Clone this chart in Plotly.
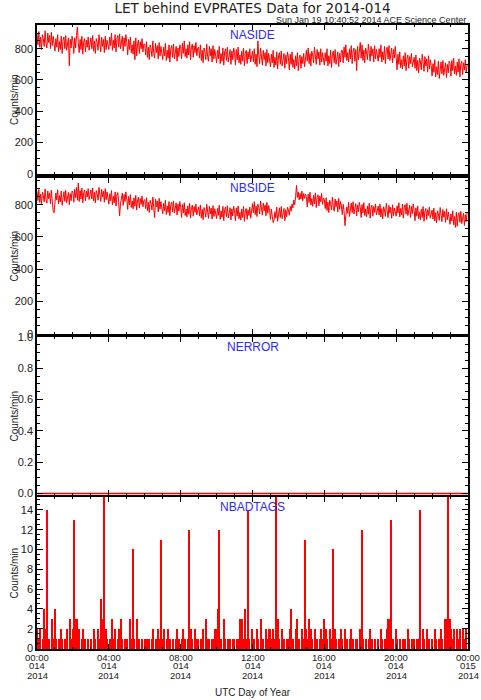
import plotly.graph_objects as go
from plotly.subplots import make_subplots
import pandas as pd

# 3-minute samples, one row per hour
naside = [
    895, 825, 910, 810, 875, 795, 890, 865, 815, 915, 835, 805, 900, 840, 885, 800, 905, 820, 880, 845,
    785, 865, 810, 890, 780, 845, 795, 880, 770, 855, 875, 800, 885, 790, 820, 870, 690, 860, 805, 880,
    850, 770, 870, 805, 885, 940, 835, 775, 860, 795, 880, 765, 845, 865, 780, 855, 810, 875, 790, 840,
    870, 800, 885, 785, 850, 770, 865, 840, 790, 890, 810, 780, 875, 815, 860, 775, 880, 795, 855, 820,
    795, 875, 820, 900, 790, 855, 805, 890, 780, 865, 885, 810, 895, 800, 830, 880, 785, 870, 815, 890,
    840, 760, 860, 795, 875, 775, 825, 765, 850, 730, 870, 755, 835, 855, 770, 845, 800, 865, 780, 830,
    830, 760, 845, 745, 810, 730, 825, 800, 750, 850, 770, 740, 835, 775, 820, 735, 840, 755, 815, 780,
    730, 810, 755, 835, 725, 790, 740, 825, 715, 800, 820, 745, 830, 735, 765, 815, 720, 805, 750, 825,
    815, 735, 835, 770, 850, 750, 800, 740, 825, 760, 845, 730, 810, 830, 745, 820, 775, 840, 755, 805,
    810, 740, 825, 725, 790, 710, 805, 780, 730, 830, 750, 720, 815, 755, 800, 715, 820, 735, 795, 760,
    710, 790, 735, 815, 705, 770, 720, 805, 695, 780, 800, 725, 810, 715, 745, 795, 700, 785, 730, 805,
    775, 695, 795, 730, 810, 710, 760, 700, 785, 720, 805, 690, 770, 790, 705, 780, 735, 800, 715, 765,
    785, 715, 800, 700, 765, 685, 850, 755, 705, 805, 725, 695, 790, 730, 775, 690, 795, 710, 770, 735,
    685, 765, 710, 790, 680, 745, 695, 780, 670, 755, 775, 700, 785, 690, 720, 770, 675, 760, 705, 780,
    745, 665, 765, 700, 780, 680, 730, 670, 755, 690, 775, 660, 740, 760, 675, 750, 705, 770, 685, 735,
    790, 720, 805, 705, 770, 690, 785, 760, 710, 810, 730, 700, 795, 735, 780, 695, 800, 715, 775, 740,
    695, 775, 720, 800, 690, 755, 705, 790, 680, 765, 785, 710, 795, 700, 730, 780, 685, 770, 715, 790,
    790, 710, 810, 745, 825, 725, 775, 715, 800, 735, 820, 705, 785, 805, 720, 795, 660, 815, 730, 780,
    840, 740, 825, 725, 790, 710, 805, 780, 730, 830, 750, 720, 815, 755, 800, 715, 820, 735, 795, 760,
    720, 800, 745, 825, 715, 780, 730, 815, 705, 790, 810, 735, 820, 725, 755, 805, 710, 795, 740, 815,
    745, 665, 765, 700, 780, 680, 730, 670, 755, 690, 775, 660, 740, 760, 675, 750, 705, 770, 685, 735,
    745, 675, 760, 660, 725, 645, 740, 715, 665, 765, 685, 655, 750, 690, 735, 650, 755, 670, 730, 695,
    625, 705, 650, 730, 620, 685, 635, 720, 610, 695, 715, 640, 725, 630, 660, 710, 615, 700, 645, 720,
    705, 625, 725, 660, 740, 640, 690, 630, 715, 650, 735, 620, 700, 720, 635, 710, 665, 730, 645, 695,
]

nbside = [
    882, 826, 894, 814, 866, 802, 878, 858, 818, 898, 834, 810, 886, 838, 874, 806, 890, 800, 760, 750,
    809, 873, 829, 893, 805, 857, 817, 885, 797, 865, 881, 821, 889, 813, 837, 877, 801, 869, 825, 885,
    880, 816, 896, 844, 908, 828, 935, 820, 888, 836, 904, 812, 876, 892, 824, 884, 848, 900, 832, 872,
    892, 836, 904, 824, 876, 812, 888, 868, 828, 908, 844, 820, 896, 848, 884, 816, 900, 832, 880, 852,
    804, 868, 824, 888, 800, 852, 812, 880, 792, 860, 876, 816, 730, 808, 832, 872, 796, 864, 820, 880,
    835, 771, 851, 799, 863, 783, 823, 775, 843, 791, 859, 767, 831, 847, 779, 839, 803, 855, 787, 827,
    832, 776, 844, 764, 816, 752, 828, 808, 768, 848, 784, 720, 836, 788, 824, 756, 840, 772, 820, 792,
    744, 808, 764, 828, 740, 792, 752, 820, 732, 800, 816, 756, 824, 748, 772, 812, 736, 804, 760, 820,
    785, 721, 801, 749, 813, 733, 773, 725, 793, 741, 809, 717, 781, 797, 729, 789, 753, 805, 737, 777,
    787, 731, 799, 719, 771, 707, 783, 763, 723, 803, 739, 715, 791, 743, 779, 711, 795, 727, 775, 747,
    714, 778, 734, 798, 710, 762, 722, 790, 702, 770, 786, 726, 794, 718, 742, 782, 706, 774, 730, 790,
    765, 701, 781, 729, 793, 713, 753, 705, 773, 721, 789, 697, 761, 777, 709, 769, 733, 785, 717, 757,
    807, 751, 819, 739, 791, 727, 803, 783, 743, 823, 759, 735, 811, 763, 799, 731, 815, 747, 795, 767,
    709, 773, 729, 690, 705, 757, 717, 785, 697, 765, 781, 721, 789, 713, 737, 777, 701, 769, 725, 785,
    770, 735, 790, 760, 805, 780, 830, 800, 850, 920, 845, 880, 830, 870, 835, 885, 825, 870, 840, 865,
    850, 786, 866, 814, 878, 798, 838, 790, 858, 806, 874, 782, 846, 862, 794, 854, 818, 870, 802, 842,
    832, 776, 844, 764, 816, 752, 828, 808, 768, 848, 784, 760, 836, 788, 824, 756, 840, 772, 820, 792,
    739, 803, 759, 670, 735, 787, 747, 815, 727, 795, 811, 751, 819, 743, 767, 807, 731, 799, 755, 815,
    785, 721, 801, 749, 813, 733, 773, 725, 793, 741, 809, 717, 781, 797, 729, 789, 753, 805, 737, 777,
    792, 736, 804, 724, 776, 712, 788, 768, 728, 808, 744, 720, 796, 748, 784, 716, 800, 732, 780, 752,
    729, 793, 749, 813, 725, 777, 737, 805, 717, 785, 801, 741, 809, 733, 757, 797, 721, 789, 745, 805,
    765, 701, 781, 729, 793, 713, 753, 705, 773, 721, 789, 697, 761, 777, 709, 769, 733, 785, 717, 757,
    767, 711, 779, 699, 751, 687, 763, 743, 703, 783, 719, 695, 771, 723, 759, 691, 775, 707, 755, 727,
    679, 743, 699, 763, 675, 727, 660, 755, 667, 735, 751, 691, 759, 683, 707, 747, 671, 739, 695, 755,
]

# hourly, all zero
nerror = [0, 0, 0, 0, 0, 0, 0, 0, 0, 0, 0, 0, 0,
          0, 0, 0, 0, 0, 0, 0, 0, 0, 0, 0, 0]

# 5-minute samples, one row per hour
nbadtags = [
    2, 1, 2, 0, 1, 4, 2, 14, 1, 0, 3, 1,
    4, 1, 0, 1, 2, 1, 0, 1, 2, 0, 3, 1,
    2, 13, 3, 3, 2, 0, 1, 2, 1, 0, 1, 0,
    1, 0, 2, 1, 0, 2, 1, 5, 3, 18, 2, 1,
    0, 1, 3, 1, 2, 0, 1, 2, 3, 1, 0, 1,
    1, 0, 3, 1, 10, 1, 0, 3, 1, 0, 1, 0,
    1, 0, 1, 1, 0, 1, 2, 0, 1, 2, 1, 11,
    1, 2, 0, 1, 2, 1, 0, 1, 0, 1, 2, 1,
    0, 1, 2, 1, 0, 1, 12, 2, 1, 0, 2, 1,
    1, 0, 1, 2, 0, 3, 1, 1, 0, 1, 1, 2,
    2, 4, 12, 1, 0, 3, 1, 0, 1, 1, 0, 1,
    1, 0, 1, 1, 3, 3, 1, 4, 1, 14, 1, 0,
    2, 1, 0, 2, 1, 0, 3, 1, 0, 2, 1, 2,
    2, 1, 2, 1, 18, 3, 1, 0, 2, 1, 0, 1,
    1, 2, 4, 1, 0, 2, 3, 1, 0, 2, 1, 11,
    2, 1, 3, 2, 1, 0, 2, 1, 0, 1, 2, 1,
    3, 2, 1, 0, 2, 1, 10, 2, 1, 0, 1, 2,
    1, 0, 2, 1, 0, 1, 2, 1, 0, 1, 1, 0,
    2, 12, 1, 0, 1, 0, 1, 2, 1, 0, 1, 0,
    1, 0, 2, 1, 0, 1, 2, 3, 3, 13, 1, 0,
    2, 1, 0, 1, 0, 1, 1, 0, 2, 1, 0, 1,
    1, 0, 1, 1, 14, 0, 2, 1, 0, 2, 1, 0,
    1, 0, 2, 1, 0, 1, 2, 1, 0, 3, 3, 18,
    3, 2, 1, 2, 0, 2, 1, 2, 0, 2, 1, 2,
]

panel_names = ["NASIDE", "NBSIDE", "NERROR", "NBADTAGS"]
tick_times = ["00:00", "04:00", "08:00", "12:00", "16:00", "20:00", "00:00"]
tick_days = ["014", "014", "014", "014", "014", "014", "015"]
tick_years = ["2014", "2014", "2014", "2014", "2014", "2014", "2014"]

t3 = pd.date_range("2014-01-14 00:00", periods=len(naside), freq="3min")
t5 = pd.date_range("2014-01-14 00:00", periods=len(nbadtags), freq="5min")
t60 = pd.date_range("2014-01-14 00:00", periods=len(nerror), freq="60min")
tick_vals = pd.date_range("2014-01-14 00:00", periods=7, freq="4h")

RED = "#ff0000"
BLUE = "#2a2aff"
TXT = "#222222"
FONT = "Liberation Sans"

fig = make_subplots(rows=4, cols=1, shared_xaxes=True, vertical_spacing=0.005)
fig.add_trace(go.Scatter(x=t3, y=naside, mode="lines", line=dict(color=RED, width=1)), row=1, col=1)
fig.add_trace(go.Scatter(x=t3, y=nbside, mode="lines", line=dict(color=RED, width=1)), row=2, col=1)
fig.add_trace(go.Scatter(x=t60, y=nerror, mode="lines", line=dict(color=RED, width=1.5)), row=3, col=1)
fig.add_trace(go.Bar(x=t5, y=nbadtags, width=300000, marker=dict(color=RED, line=dict(width=0))), row=4, col=1)

# panel domains (from pixel positions of the frames)
domains = [[0.7612, 1.0], [0.5048, 0.7548], [0.2468, 0.5], [0.0, 0.2436]]
yranges = [[-2, 952], [-2, 966], [-0.01, 1.0], [-0.05, 15.3]]
ydticks = [200, 200, 0.2, 2]
yminor = [50, 50, 0.05, 0.5]
yfmt = ["d", "d", ".1f", "d"]

for i in range(4):
    sfx = "" if i == 0 else str(i + 1)
    fig.layout["yaxis" + sfx].update(
        domain=domains[i], range=yranges[i], dtick=ydticks[i], tick0=0,
        tickformat=yfmt[i], ticks="inside", ticklen=6, tickwidth=1, tickcolor="black",
        minor=dict(ticks="inside", ticklen=3, dtick=yminor[i], tick0=0, tickcolor="black"),
        showline=True, linecolor="black", linewidth=1.5, mirror="ticks",
        showgrid=False, zeroline=False,
        tickfont=dict(family=FONT, size=11, color=TXT),
    )
    fig.layout["xaxis" + sfx].update(
        range=["2014-01-14 00:00", "2014-01-15 00:00"],
        tickvals=tick_vals, showticklabels=False,
        ticks="inside", ticklen=5, tickwidth=1, tickcolor="black",
        minor=dict(ticks="inside", ticklen=2, dtick=3600000, tick0="2014-01-14", tickcolor="black"),
        showline=True, linecolor="black", linewidth=1.5, mirror="ticks",
        showgrid=False, zeroline=False,
    )
    fig.add_annotation(
        text=panel_names[i], xref="paper", x=0.5, yref="y" + sfx + " domain", y=1,
        yanchor="middle", yshift=-10, showarrow=False,
        font=dict(family=FONT, size=12, color=BLUE),
    )
    fig.add_annotation(
        text="Counts/min", xref="paper", x=-0.0696, yref="y" + sfx + " domain", y=0.5,
        textangle=-90, showarrow=False, font=dict(family=FONT, size=10, color=TXT),
    )

# x tick labels, three rows under the bottom panel
for tv, a, b, c in zip(tick_vals, tick_times, tick_days, tick_years):
    for txt, ypx in [(a, 657), (b, 666), (c, 675)]:
        fig.add_annotation(
            text=txt, xref="x4", x=tv, yref="paper", y=(649 - ypx) / 624,
            yanchor="middle", showarrow=False, font=dict(family=FONT, size=9.5, color=TXT),
        )

fig.add_annotation(
    text="UTC Day of Year", xref="paper", x=0.5, yref="paper", y=(649 - 692) / 624,
    yanchor="middle", showarrow=False, font=dict(family=FONT, size=10, color=TXT),
)
fig.add_annotation(
    text="Sun Jan 19 10:40:52 2014 ACE Science Center", xref="paper", x=1, xanchor="right",
    yref="paper", y=(649 - 20) / 624, yanchor="middle", showarrow=False,
    font=dict(family=FONT, size=9, color=TXT),
)

fig.update_layout(
    width=481, height=700,
    margin=dict(l=37, r=13, t=25, b=51),
    paper_bgcolor="white", plot_bgcolor="white",
    showlegend=False, bargap=0,
    title=dict(
        text="LET behind EVPRATES Data for 2014-014", xref="paper", x=0.5, xanchor="center",
        y=1 - 8 / 700, yanchor="middle", font=dict(family="DejaVu Sans", size=13.5, color=TXT),
    ),
)

# page body has a default 8px margin; drop it so the figure sits at the corner
fig.write_html(
    "out.html",
    config={"displayModeBar": False},
    post_script="document.body.style.margin='0px';",
)
